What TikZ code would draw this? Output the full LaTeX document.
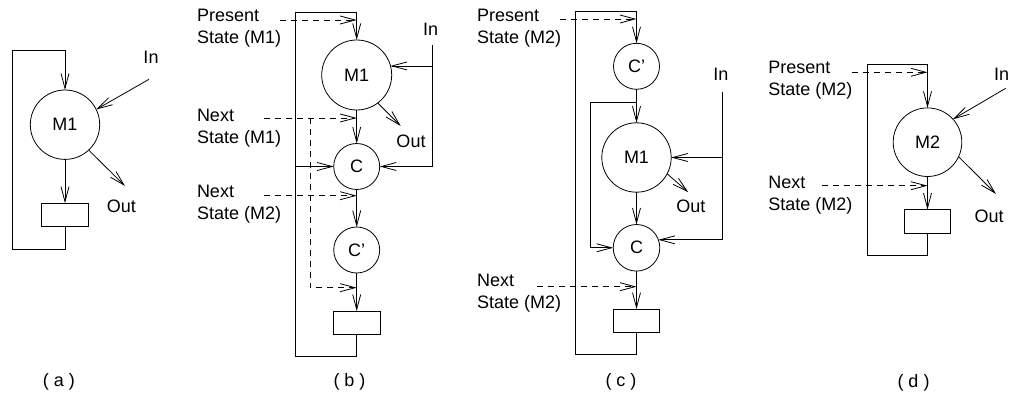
\documentclass[tikz,border=0pt]{standalone}
\usepackage{fontspec}
\setmainfont{Liberation Sans}
\usetikzlibrary{arrows.meta}
\begin{document}
\begin{tikzpicture}[x=1pt,y=-1pt,
  every node/.style={inner sep=0pt, outer sep=0pt},
  txt/.style={font=\fontsize{18}{22}\selectfont},
  lbl2/.style={txt, align=left, anchor=west},
  circ/.style={draw, circle, line width=0.8pt, font=\fontsize{18}{22}\selectfont},
  reg/.style={draw, rectangle, line width=0.8pt, minimum width=46.5pt, minimum height=23.3pt},
  ln/.style={line width=0.8pt},
  arr/.style={ln, -{Straight Barb[length=15pt,width=8pt]}},
  dsh/.style={arr, dash pattern=on 6pt off 5pt},
]
\useasboundingbox (0,0) rectangle (1009,401);

% ---------------- (a)
\node[circ, minimum size=69.4pt] (a-m1) at (65,124.7) {M1};
\node[reg] (a-reg) at (65,214.8) {};
\coordinate (a-bl) at (12.3,249.3);
\coordinate (a-tl) at (12.3,50.7);
\draw[arr] (a-reg.south) -- (a-reg.south |- a-bl) -- (a-bl) -- (a-tl) -- (a-tl -| a-m1) -- (a-m1.north);
\draw[arr] (a-m1.south) -- (a-reg.north);
\node[txt] (a-in) at (151,57) {In};
\coordinate (a-in0) at (149,79.3);
\draw[arr] (a-in0) -- (a-m1.26);
\node[txt] (a-out) at (121.3,206.7) {Out};
\coordinate (a-out0) at (125,186);
\draw[arr] (a-m1.-47) -- (a-out0);
\node[txt] (a-lab) at (59,382) {( a )};

% ---------------- (b)
\node[circ, minimum size=70pt] (b-m1) at (356.7,75) {M1};
\node[circ, minimum size=46pt] (b-c) at (356.7,166.5) {C};
\node[circ, minimum size=46pt] (b-cp) at (356.7,250) {C'};
\node[reg] (b-reg) at (356.7,322.7) {};
\coordinate (b-bl) at (295.3,356.7);
\coordinate (b-tl) at (295.3,12.7);
\draw[arr] (b-reg.south) -- (b-reg.south |- b-bl) -- (b-bl) -- (b-tl) -- (b-tl -| b-m1) -- (b-m1.north);
\draw[arr] (b-m1.south) -- (b-c.north);
\draw[arr] (b-c.south) -- (b-cp.north);
\draw[arr] (b-cp.south) -- (b-reg.north);
\draw[arr] (b-c.west -| b-bl) -- (b-c.west);
\node[txt] (b-in) at (430.7,29) {In};
\coordinate (b-inT) at (432.7,45);
\draw[arr] (b-inT) -- (b-inT |- b-c.east) -- (b-c.east);
\draw[arr] (b-inT |- b-m1.15) -- (b-m1.15);
\node[txt] (b-out) at (411,141.7) {Out};
\coordinate (b-out0) at (400.7,126);
\draw[arr] (b-m1.-53) -- (b-out0);
\node[lbl2] (b-ps) at (197,27.9) {Present\\State (M1)};
\node[lbl2] (b-ns1) at (197,127.9) {Next\\State (M1)};
\node[lbl2] (b-ns2) at (197,203.9) {Next\\State (M2)};
\coordinate (b-ps0) at (280,20);
\draw[dsh] (b-ps0) -- (b-ps0 -| b-m1);
\coordinate (b-ns10) at (264,118);
\draw[dsh] (b-ns10) -- (b-ns10 -| b-m1);
\coordinate (b-br) at (310,118);
\coordinate (b-brB) at (310,287.7);
\draw[dsh] (b-br) -- (b-brB) -- (b-brB -| b-m1);
\coordinate (b-ns20) at (264,195.7);
\draw[dsh] (b-ns20) -- (b-ns20 -| b-m1);
\node[txt] (b-lab) at (349.5,382) {( b )};

% ---------------- (c)
\node[circ, minimum size=46pt] (c-cp) at (636.5,66.3) {C'};
\node[circ, minimum size=69.4pt] (c-m1) at (636.5,157.5) {M1};
\node[circ, minimum size=46.6pt] (c-c) at (636.5,247.8) {C};
\node[reg] (c-reg) at (636.5,320.8) {};
\coordinate (c-bl) at (575.3,354.3);
\coordinate (c-tl) at (575.3,11);
\draw[arr] (c-reg.south) -- (c-reg.south |- c-bl) -- (c-bl) -- (c-tl) -- (c-tl -| c-cp) -- (c-cp.north);
\draw[arr] (c-cp.south) -- (c-m1.north);
\coordinate (c-il) at (590,102.7);
\draw[arr] (c-il -| c-cp) -- (c-il) -- (c-il |- c-c.west) -- (c-c.west);
\draw[arr] (c-m1.south) -- (c-c.north);
\draw[arr] (c-c.south) -- (c-reg.north);
\node[txt] (c-in) at (720.8,74.5) {In};
\coordinate (c-inT) at (722.3,91.7);
\draw[arr] (c-inT) -- (c-inT |- c-c.20) -- (c-c.20);
\draw[arr] (c-inT |- c-m1.east) -- (c-m1.east);
\node[txt] (c-out) at (690.8,206.7) {Out};
\coordinate (c-out0) at (688.3,192.2);
\draw[arr] (c-m1.-28) -- (c-out0);
\node[lbl2] (c-ps) at (477,27.9) {Present\\State (M2)};
\node[lbl2] (c-ns) at (477,293.6) {Next\\State (M2)};
\coordinate (c-ps0) at (560,19);
\draw[dsh] (c-ps0) -- (c-ps0 -| c-cp);
\coordinate (c-ns0) at (536.7,286.7);
\draw[dsh] (c-ns0) -- (c-ns0 -| c-c);
\node[txt] (c-lab) at (621,382) {( c )};

% ---------------- (d)
\node[circ, minimum size=68.6pt] (d-m2) at (927.5,142.2) {M2};
\node[reg] (d-reg) at (927.5,221.3) {};
\coordinate (d-bl) at (867,255.7);
\coordinate (d-tl) at (867,64.3);
\draw[arr] (d-reg.south) -- (d-reg.south |- d-bl) -- (d-bl) -- (d-tl) -- (d-tl -| d-m2) -- (d-m2.north);
\draw[arr] (d-m2.south) -- (d-reg.north);
\node[txt] (d-in) at (1001.5,74) {In};
\coordinate (d-in0) at (1005.7,88.3);
\draw[arr] (d-in0) -- (d-m2.42);
\node[txt] (d-out) at (989,216.7) {Out};
\coordinate (d-out0) at (996,194);
\draw[arr] (d-m2.-25) -- (d-out0);
\node[lbl2] (d-ps) at (768.3,80.6) {Present\\State (M2)};
\node[lbl2] (d-ns) at (768.3,194.8) {Next\\State (M2)};
\coordinate (d-ps0) at (851.7,72.3);
\draw[dsh] (d-ps0) -- (d-ps0 -| d-m2);
\coordinate (d-ns0) at (821.7,185.7);
\draw[dsh] (d-ns0) -- (d-ns0 -| d-m2);
\node[txt] (d-lab) at (913.5,383) {( d )};
\end{tikzpicture}
\end{document}
